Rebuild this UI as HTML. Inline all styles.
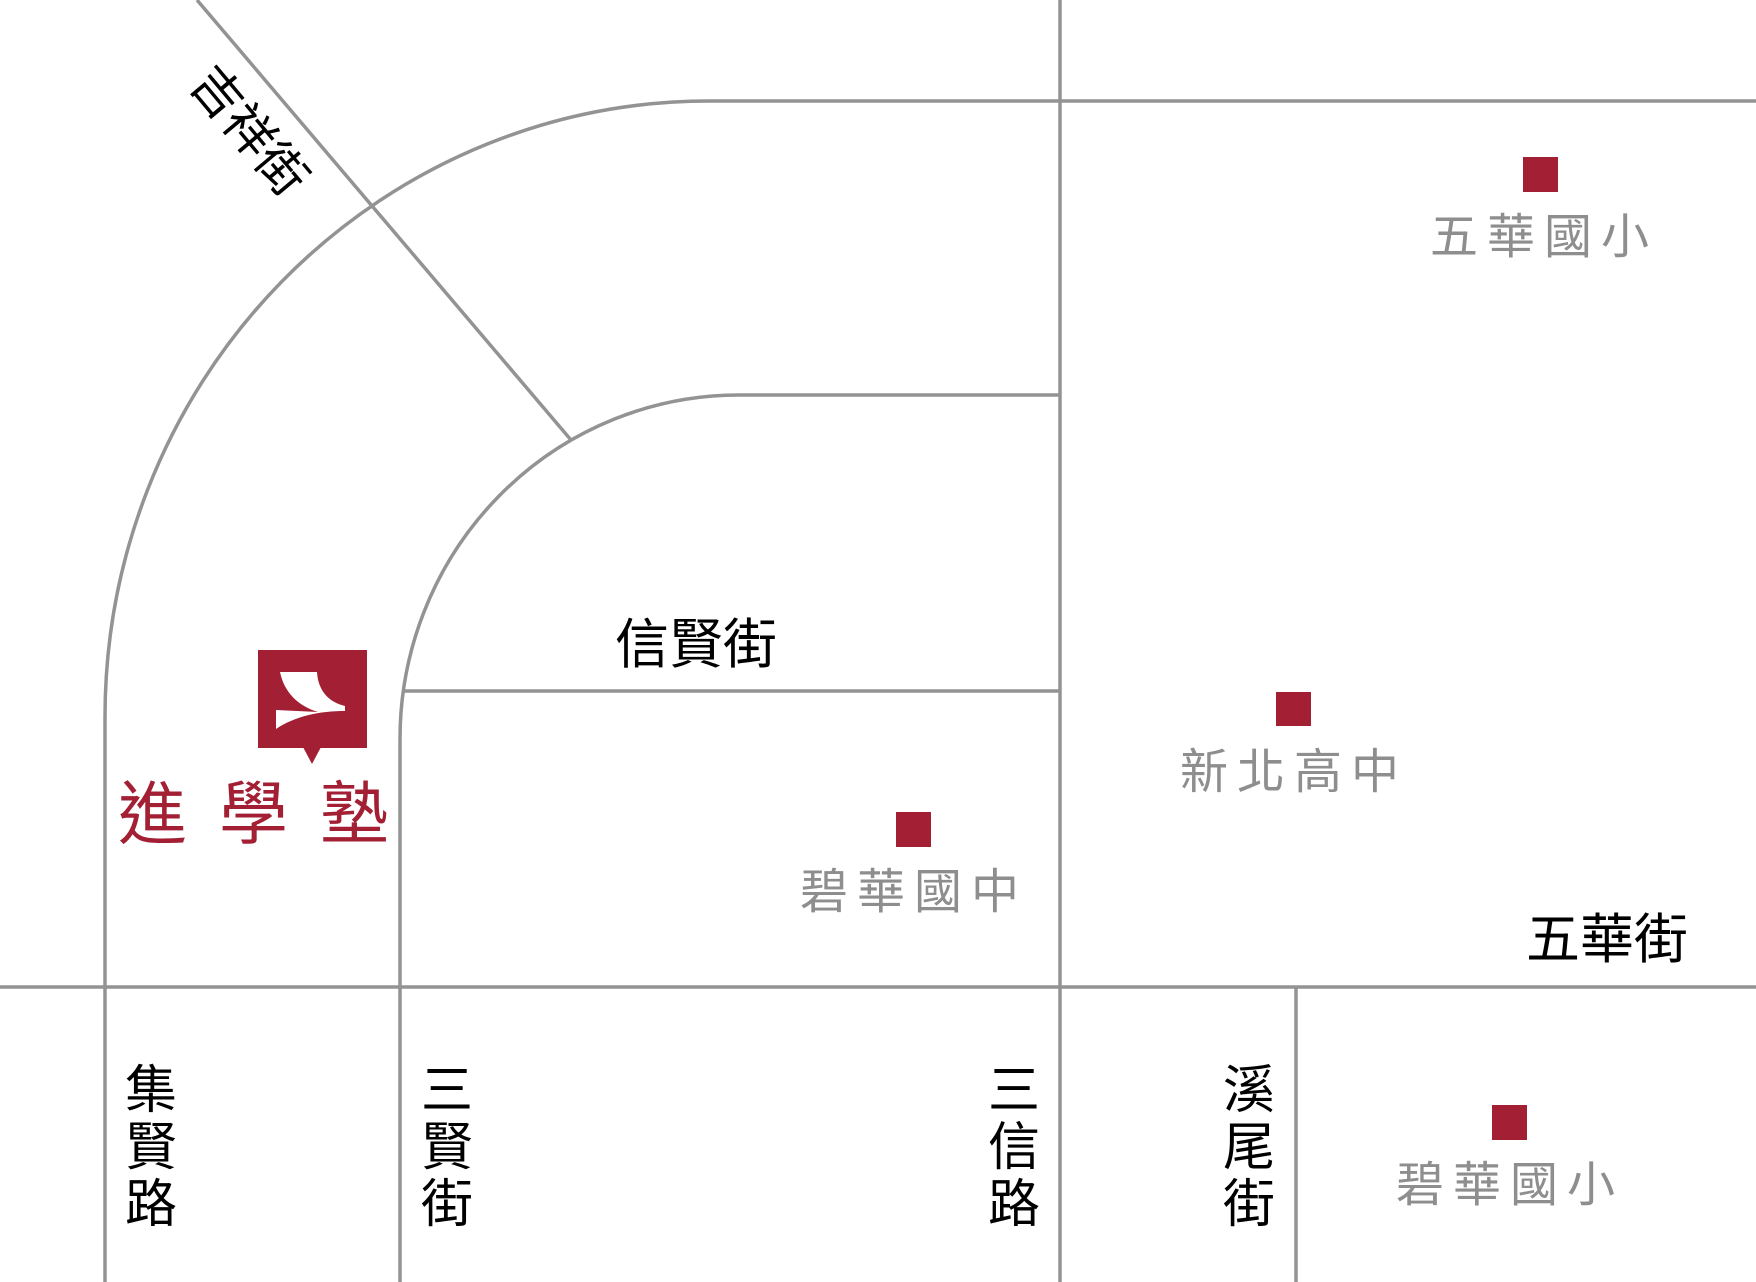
<!DOCTYPE html>
<html><head><meta charset="utf-8"><style>
html,body{margin:0;padding:0;background:#fff;}
svg{display:block}
text{font-family:"Liberation Sans","Noto Sans CJK TC",sans-serif;}
</style></head><body>
<svg width="1756" height="1282" viewBox="0 0 1756 1282" xmlns="http://www.w3.org/2000/svg">
<g stroke="#939393" stroke-width="3.5" fill="none">
<line x1="0" y1="987" x2="1756" y2="987"/>
<line x1="1060" y1="0" x2="1060" y2="1282"/>
<line x1="1296" y1="987" x2="1296" y2="1282"/>
<line x1="709" y1="101" x2="1756" y2="101"/>
<line x1="739" y1="395" x2="1060" y2="395"/>
<line x1="403" y1="691" x2="1060" y2="691"/>
<path d="M105 1282 L105 717 A604 616 0 0 1 709 101"/>
<path d="M400 1282 L400 739 A339 344 0 0 1 739 395"/>
<line x1="197" y1="0" x2="571" y2="440"/>
</g>
<g fill="#a31f34">
<rect x="1523" y="157" width="35" height="35"/>
<rect x="1276" y="692" width="35" height="34"/>
<rect x="896" y="812" width="35" height="35"/>
<rect x="1492" y="1105" width="35" height="35"/>
<rect x="258" y="650" width="109" height="98"/>
<polygon points="303,747 321,747 312,764"/>
</g>
<path d="M280 672 L317 672 C318 690 328 702 345 706 L345 711 C320 711 295 716 276 729 L276 710 L318 712 C298 706 284 692 280 672 Z" fill="#fff"/>
<text x="118" y="838" font-size="69" fill="#a31f34" letter-spacing="32">進學塾</text>
<g font-size="48" fill="#8e8e8e" letter-spacing="9">
<text x="1430" y="253">五華國小</text>
<text x="1180" y="788">新北高中</text>
<text x="800" y="908">碧華國中</text>
<text x="1396" y="1201">碧華國小</text>
</g>
<g font-size="54" fill="#000">
<text x="615" y="663">信賢街</text>
<text x="1526" y="958">五華街</text>
</g>
<g font-size="52" fill="#000" text-anchor="middle">
<text x="151" y="1108">集</text><text x="151" y="1165">賢</text><text x="151" y="1222">路</text>
<text x="447" y="1108">三</text><text x="447" y="1165">賢</text><text x="447" y="1222">街</text>
<text x="1014" y="1108">三</text><text x="1014" y="1165">信</text><text x="1014" y="1222">路</text>
<text x="1249" y="1108">溪</text><text x="1249" y="1165">尾</text><text x="1249" y="1222">街</text>
</g>
<text x="0" y="0" font-size="50" fill="#000" text-anchor="middle" transform="translate(236 142) rotate(50)">吉祥街</text>
</svg>
</body></html>
